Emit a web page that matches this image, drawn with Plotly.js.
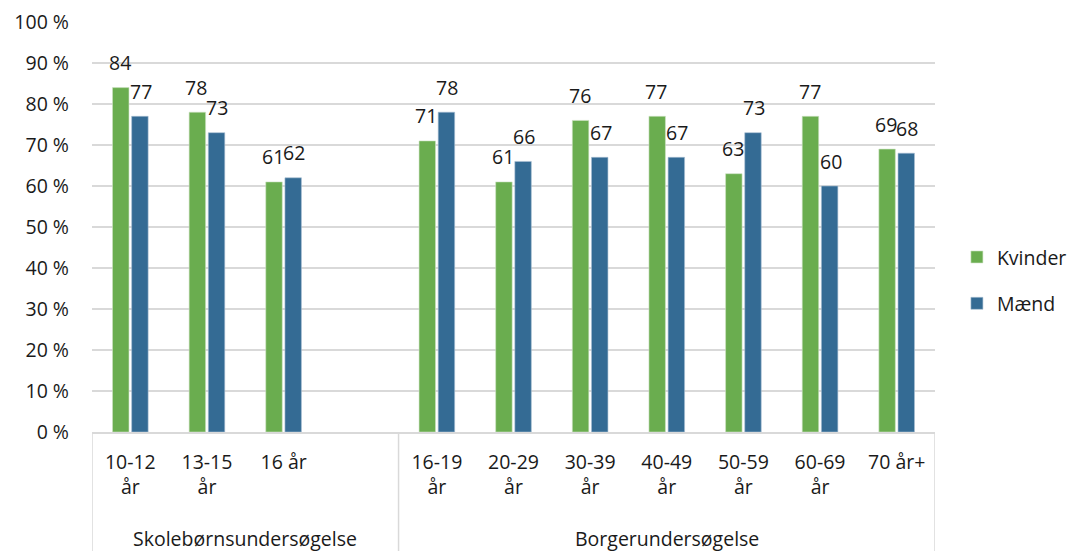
<!DOCTYPE html>
<html>
<head>
<meta charset="utf-8">
<script src="https://cdn.plot.ly/plotly-3.0.1.min.js"></script>
<style>html,body{margin:0;padding:0;background:#fff;}#chart{width:1067px;height:551px;}</style>
</head>
<body>
<div id="chart"></div>
<script>
// Categories (one empty slot separates the two surveys)
var categories = ["10-12 år", "13-15 år", "16 år", " ", "16-19 år", "20-29 år", "30-39 år", "40-49 år", "50-59 år", "60-69 år", "70 år+"];
var tickLabels = ["10-12<br>år", "13-15<br>år", "16 år", "", "16-19<br>år", "20-29<br>år", "30-39<br>år", "40-49<br>år", "50-59<br>år", "60-69<br>år", "70 år+"];
var groupNames = ["Skolebørnsundersøgelse", "Borgerundersøgelse"];
var groupFirst = [0, 4];   // first category index of each group
var groupLast = [3, 10];   // last category index of each group

var kvinder = [84, 78, 61, null, 71, 61, 76, 77, 63, 77, 69];
var maend   = [77, 73, 62, null, 78, 66, 67, 67, 73, 60, 68];

var GREEN = "#6AAD4F";
var BLUE = "#346B94";
var FONT = "Open Sans, sans-serif";
var FS = 19.5;
var TXT = "#1a1a1a";

var traces = [
  {type: "bar", name: "Kvinder", x: categories, y: kvinder, marker: {color: GREEN, line: {color: "#CFE3C4", width: 0.6}}, legendgroup: "k", hoverinfo: "x+y+name"},
  {type: "bar", name: "Mænd", x: categories, y: maend, marker: {color: BLUE, line: {color: "#A9C0D3", width: 0.6}}, legendgroup: "m", hoverinfo: "x+y+name"}
];

var annotations = [];
var series = [kvinder, maend];
var barShift = [-10.5, 10.5];
series.forEach(function (vals, s) {
  vals.forEach(function (v, i) {
    if (v === null) return;
    annotations.push({
      x: categories[i], y: v, xref: "x", yref: "y",
      text: String(v), showarrow: false,
      xshift: barShift[s], yshift: 25, yanchor: "middle", xanchor: "center",
      font: {family: FONT, size: FS, color: TXT}
    });
  });
});

var shapes = [];
groupNames.forEach(function (g, k) {
  annotations.push({
    x: (groupFirst[k] + groupLast[k]) / 2, y: 0, xref: "x", yref: "paper",
    yshift: -106, yanchor: "middle", xanchor: "center", showarrow: false,
    text: g, font: {family: FONT, size: FS, color: TXT}
  });
});
var dividers = [groupFirst[0] - 0.5, groupLast[0] + 0.5, groupLast[1] + 0.5];
dividers.forEach(function (d) {
  shapes.push({type: "line", xref: "x", yref: "paper", x0: d, x1: d, y0: 0, y1: -0.3,
    line: {color: "#D9D9D9", width: 1.5}});
});

var layout = {
  width: 1067, height: 551,
  margin: {l: 92, r: 132, t: 22, b: 119, autoexpand: false},
  paper_bgcolor: "#ffffff", plot_bgcolor: "#ffffff",
  font: {family: FONT, size: FS, color: TXT},
  barmode: "group", bargap: 0.5, bargroupgap: 0.14,
  showlegend: true,
  legend: {x: 1.026, y: 0.37, xanchor: "left", yanchor: "middle", traceorder: "grouped",
    tracegroupgap: 18, font: {family: FONT, size: FS, color: TXT}, itemwidth: 30,
    bgcolor: "rgba(0,0,0,0)"},
  xaxis: {type: "category", categoryorder: "array", categoryarray: categories,
    tickmode: "array", tickvals: categories, ticktext: tickLabels,
    showgrid: false, zeroline: false, showline: true, linecolor: "#D9D9D9", linewidth: 1.5,
    ticks: "", ticklabelstandoff: 12, range: [-0.5, 10.5],
    tickfont: {family: FONT, size: FS, color: TXT}},
  yaxis: {range: [0, 100], dtick: 10, tick0: 0, ticksuffix: " %", showgrid: true,
    gridcolor: "#D9D9D9", gridwidth: 1.5, zeroline: false, showline: false, ticks: "",
    ticklabelstandoff: 22, tickfont: {family: FONT, size: FS, color: TXT}},
  annotations: annotations,
  shapes: shapes
};

Plotly.newPlot("chart", traces, layout, {displayModeBar: false, staticPlot: true});
</script>
</body>
</html>
